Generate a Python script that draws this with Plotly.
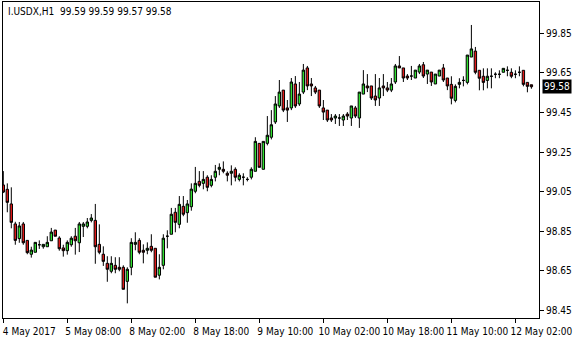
import plotly.graph_objects as go

symbol = "I.USDX,H1"
opens = [99.084, 99.062, 98.988, 98.887, 98.813, 98.887, 98.804, 98.734, 98.744, 98.782,
         98.772, 98.772, 98.802, 98.856, 98.816, 98.766, 98.752, 98.782, 98.825, 98.792,
         98.875, 98.875, 98.905, 98.905, 98.784, 98.734, 98.688, 98.648, 98.678, 98.668,
         98.668, 98.597, 98.668, 98.784, 98.804, 98.754, 98.754, 98.774, 98.764, 98.628,
         98.678, 98.825, 98.835, 98.946, 98.885, 98.976, 98.944, 98.974, 99.052, 99.102,
         99.092, 99.123, 99.082, 99.123, 99.163, 99.163, 99.143, 99.143, 99.163, 99.112,
         99.123, 99.112, 99.123, 99.153, 99.294, 99.163, 99.294, 99.325, 99.402, 99.483,
         99.563, 99.473, 99.473, 99.594, 99.493, 99.553, 99.675, 99.594, 99.574, 99.563,
         99.473, 99.462, 99.422, 99.422, 99.422, 99.412, 99.442, 99.422, 99.473, 99.422,
         99.543, 99.584, 99.584, 99.533, 99.523, 99.584, 99.574, 99.563, 99.604, 99.685,
         99.675, 99.634, 99.634, 99.624, 99.654, 99.691, 99.644, 99.654, 99.594, 99.634,
         99.675, 99.624, 99.592, 99.511, 99.592, 99.612, 99.602, 99.730, 99.760, 99.663,
         99.633, 99.612, 99.633, 99.643, 99.643, 99.653, 99.663, 99.653, 99.643, 99.653,
         99.663, 99.602, 99.590]
highs = [99.154, 99.092, 99.072, 98.898, 98.897, 98.897, 98.804, 98.772, 98.794, 98.804,
         98.784, 98.825, 98.867, 98.856, 98.825, 98.782, 98.804, 98.825, 98.867, 98.897,
         98.897, 98.917, 98.937, 98.988, 98.885, 98.774, 98.724, 98.724, 98.719, 98.719,
         98.678, 98.668, 98.815, 98.845, 98.815, 98.784, 98.794, 98.835, 98.764, 98.734,
         98.835, 98.855, 98.968, 98.968, 99.028, 99.028, 99.008, 99.092, 99.175, 99.154,
         99.154, 99.133, 99.133, 99.185, 99.193, 99.203, 99.153, 99.183, 99.173, 99.143,
         99.143, 99.123, 99.173, 99.325, 99.294, 99.304, 99.432, 99.462, 99.533, 99.614,
         99.563, 99.513, 99.624, 99.634, 99.604, 99.695, 99.685, 99.624, 99.584, 99.563,
         99.513, 99.462, 99.442, 99.442, 99.442, 99.442, 99.452, 99.483, 99.483, 99.553,
         99.664, 99.644, 99.584, 99.644, 99.624, 99.644, 99.604, 99.624, 99.695, 99.735,
         99.675, 99.644, 99.685, 99.664, 99.695, 99.705, 99.664, 99.654, 99.644, 99.664,
         99.695, 99.624, 99.633, 99.592, 99.623, 99.633, 99.740, 99.892, 99.781, 99.663,
         99.673, 99.673, 99.673, 99.653, 99.663, 99.673, 99.683, 99.673, 99.663, 99.683,
         99.663, 99.602, 99.590]
lows = [99.043, 98.946, 98.865, 98.782, 98.792, 98.782, 98.734, 98.717, 98.744, 98.761,
        98.762, 98.772, 98.802, 98.825, 98.752, 98.722, 98.732, 98.772, 98.732, 98.745,
        98.821, 98.865, 98.895, 98.686, 98.734, 98.675, 98.595, 98.638, 98.638, 98.648,
        98.557, 98.486, 98.628, 98.754, 98.734, 98.688, 98.734, 98.744, 98.618, 98.607,
        98.658, 98.764, 98.835, 98.845, 98.865, 98.926, 98.893, 98.954, 99.042, 99.072,
        99.062, 99.052, 99.072, 99.102, 99.133, 99.143, 99.102, 99.082, 99.102, 99.102,
        99.082, 99.102, 99.112, 99.153, 99.173, 99.163, 99.284, 99.314, 99.392, 99.473,
        99.452, 99.402, 99.462, 99.473, 99.483, 99.543, 99.563, 99.533, 99.543, 99.473,
        99.412, 99.402, 99.402, 99.392, 99.382, 99.382, 99.412, 99.382, 99.422, 99.372,
        99.543, 99.553, 99.513, 99.483, 99.483, 99.533, 99.553, 99.553, 99.594, 99.675,
        99.604, 99.614, 99.614, 99.624, 99.644, 99.624, 99.594, 99.584, 99.594, 99.634,
        99.604, 99.563, 99.491, 99.501, 99.572, 99.582, 99.592, 99.730, 99.643, 99.562,
        99.562, 99.572, 99.572, 99.623, 99.623, 99.653, 99.633, 99.623, 99.623, 99.633,
        99.582, 99.552, 99.570]
closes = [99.048, 98.996, 98.895, 98.804, 98.877, 98.792, 98.742, 98.755, 98.794, 98.782,
          98.784, 98.794, 98.846, 98.825, 98.762, 98.752, 98.794, 98.815, 98.802, 98.887,
          98.887, 98.897, 98.917, 98.772, 98.744, 98.698, 98.658, 98.688, 98.658, 98.658,
          98.557, 98.658, 98.794, 98.794, 98.744, 98.744, 98.764, 98.754, 98.618, 98.668,
          98.815, 98.825, 98.936, 98.895, 98.986, 98.936, 98.988, 99.063, 99.092, 99.082,
          99.112, 99.072, 99.112, 99.153, 99.173, 99.153, 99.133, 99.153, 99.123, 99.133,
          99.123, 99.112, 99.163, 99.304, 99.173, 99.304, 99.335, 99.388, 99.493, 99.553,
          99.462, 99.462, 99.604, 99.483, 99.543, 99.664, 99.584, 99.584, 99.553, 99.483,
          99.452, 99.412, 99.412, 99.432, 99.422, 99.432, 99.432, 99.483, 99.432, 99.553,
          99.594, 99.574, 99.523, 99.513, 99.574, 99.574, 99.563, 99.594, 99.685, 99.675,
          99.624, 99.624, 99.634, 99.664, 99.685, 99.634, 99.664, 99.604, 99.644, 99.664,
          99.614, 99.584, 99.522, 99.582, 99.602, 99.612, 99.740, 99.771, 99.653, 99.623,
          99.602, 99.633, 99.633, 99.643, 99.643, 99.673, 99.663, 99.633, 99.643, 99.653,
          99.592, 99.582, 99.580]

tick_positions = [0, 16, 32, 48, 64, 80, 96, 112, 128]
tick_labels = ["4 May 2017", "5 May 08:00", "8 May 02:00", "8 May 18:00", "9 May 10:00",
               "10 May 02:00", "10 May 18:00", "11 May 10:00", "12 May 02:00"]
price_ticks = [98.45, 98.65, 98.85, 99.05, 99.25, 99.45, 99.65, 99.85]

bar_index = list(range(len(opens)))
FONT = "'DejaVu Sans Condensed', Tahoma, 'DejaVu Sans', sans-serif"

fig = go.Figure()
fig.add_trace(go.Candlestick(
    x=bar_index, open=opens, high=highs, low=lows, close=closes,
    increasing=dict(fillcolor="#2fe02f", line=dict(color="#000000", width=1)),
    decreasing=dict(fillcolor="#e01818", line=dict(color="#000000", width=1)),
    whiskerwidth=0, showlegend=False, hoverinfo="skip",
))

last = closes[-1]
fig.add_annotation(
    xref="paper", yref="y", x=1, y=last, xanchor="left", yanchor="middle",
    xshift=3, text=f"{last:.2f}", showarrow=False,
    font=dict(family=FONT, size=10, color="#ffffff"),
    bgcolor="#000000", borderpad=1,
)
fig.add_annotation(
    xref="paper", yref="paper", x=0, y=1, xanchor="left", yanchor="top",
    xshift=3, yshift=-2, showarrow=False,
    text=f"{symbol}\u00a0\u00a0{opens[-1]:.2f} {highs[-1]:.2f} {lows[-1]:.2f} {closes[-1]:.2f}",
    font=dict(family=FONT, size=10, color="#000000"),
)

fig.update_layout(
    width=580, height=340,
    margin=dict(l=3, r=41, t=2, b=22),
    paper_bgcolor="#ffffff", plot_bgcolor="#ffffff",
    boxgap=0.15,
    font=dict(family=FONT, size=10, color="#000000"),
    xaxis=dict(
        range=[-0.075, 133.9], rangeslider=dict(visible=False),
        tickmode="array", tickvals=tick_positions, ticktext=tick_labels,
        ticks="outside", ticklen=4, tickcolor="#000000", ticklabelshift=26,
        showgrid=False, zeroline=False,
        showline=True, linecolor="#000000", linewidth=1, mirror=True,
        tickfont=dict(family=FONT, size=10, color="#000000"),
    ),
    yaxis=dict(
        side="right", range=[98.412, 100.008],
        tickmode="array", tickvals=price_ticks, ticktext=[f"{v:.2f}" for v in price_ticks],
        ticks="outside", ticklen=4, tickcolor="#000000",
        showgrid=False, zeroline=False,
        showline=True, linecolor="#000000", linewidth=1, mirror=True,
        tickfont=dict(family=FONT, size=10, color="#000000"),
    ),
)

fig.write_html("out.html")
